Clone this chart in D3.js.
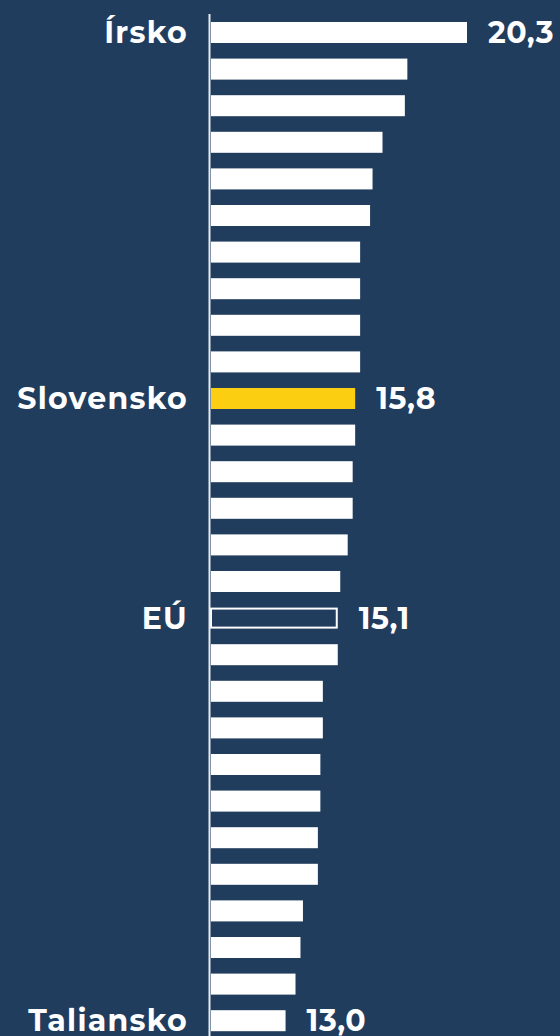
<!DOCTYPE html>
<html>
<head>
<meta charset="utf-8">
<script src="https://cdn.jsdelivr.net/npm/d3@7"></script>
<style>
  html, body { margin: 0; padding: 0; background: #213d5e; }
  svg { display: block; }
  .label { font-family: "Montserrat", "Open Sans", sans-serif; font-weight: 700; fill: #fff; }
</style>
</head>
<body>
<div id="chart"></div>
<script>
// data, top to bottom
const values = [20.3, 17.9, 17.8, 16.9, 16.5, 16.4, 16.0, 16.0, 16.0, 16.0,
                15.8, 15.8, 15.7, 15.7, 15.5, 15.2, 15.1, 15.1, 14.5, 14.5,
                14.4, 14.4, 14.3, 14.3, 13.7, 13.6, 13.4, 13.0];
const names = ["Írsko", "", "", "", "", "", "", "", "", "",
               "Slovensko", "", "", "", "", "", "EÚ", "", "", "",
               "", "", "", "", "", "", "", "Taliansko"];
const highlight = "Slovensko";
const average = "EÚ";

const data = values.map((v, i) => ({ i: i, name: names[i], value: v }));

const width = 560, height = 1036;
const bg = "#213d5e", yellow = "#fcce12";

const svg = d3.select("#chart").append("svg")
    .attr("width", width)
    .attr("height", height);

svg.append("rect").attr("width", width).attr("height", height).attr("fill", bg);

const x = d3.scaleLinear().domain([10, 20.3]).range([211, 467]);
const step = 36.6;
const y = d3.scaleBand()
    .domain(data.map(d => d.i))
    .range([32.5 - step / 2, 32.5 + (values.length - 0.5) * step])
    .paddingInner(0.426)
    .paddingOuter(0.213);

const fmt = v => d3.format(".1f")(v).replace(".", ",");

// bars
svg.selectAll(".bar")
    .data(data)
    .enter().append("rect")
    .attr("class", "bar")
    .attr("x", x(10))
    .attr("y", d => d.name === average ? y(d.i) + 1 : y(d.i))
    .attr("width", d => d.name === average ? x(d.value) - x(10) - 1 : x(d.value) - x(10))
    .attr("height", d => d.name === average ? y.bandwidth() - 2 : y.bandwidth())
    .attr("fill", d => d.name === highlight ? yellow : (d.name === average ? bg : "#fff"))
    .attr("stroke", d => d.name === average ? "#fff" : "none")
    .attr("stroke-width", 2);

// axis line
svg.append("line")
    .attr("x1", 209.5).attr("x2", 209.5)
    .attr("y1", 14).attr("y2", height)
    .attr("stroke", "#e8ecf0")
    .attr("stroke-width", 2);

const labelled = data.filter(d => d.name !== "");

// category labels
svg.selectAll(".name")
    .data(labelled)
    .enter().append("text")
    .attr("class", "label name")
    .attr("x", 188)
    .attr("y", d => y(d.i) + y.bandwidth() / 2)
    .attr("dy", "0.35em")
    .attr("text-anchor", "end")
    .style("font-size", "30px")
    .style("letter-spacing", "1.3px")
    .text(d => d.name);

// value labels
svg.selectAll(".value")
    .data(labelled)
    .enter().append("text")
    .attr("class", "label value")
    .attr("x", d => x(d.value) + 21)
    .attr("y", d => y(d.i) + y.bandwidth() / 2)
    .attr("dy", "0.35em")
    .style("font-size", "30px")
    .style("letter-spacing", "0.6px")
    .text(d => fmt(d.value));
</script>
</body>
</html>
